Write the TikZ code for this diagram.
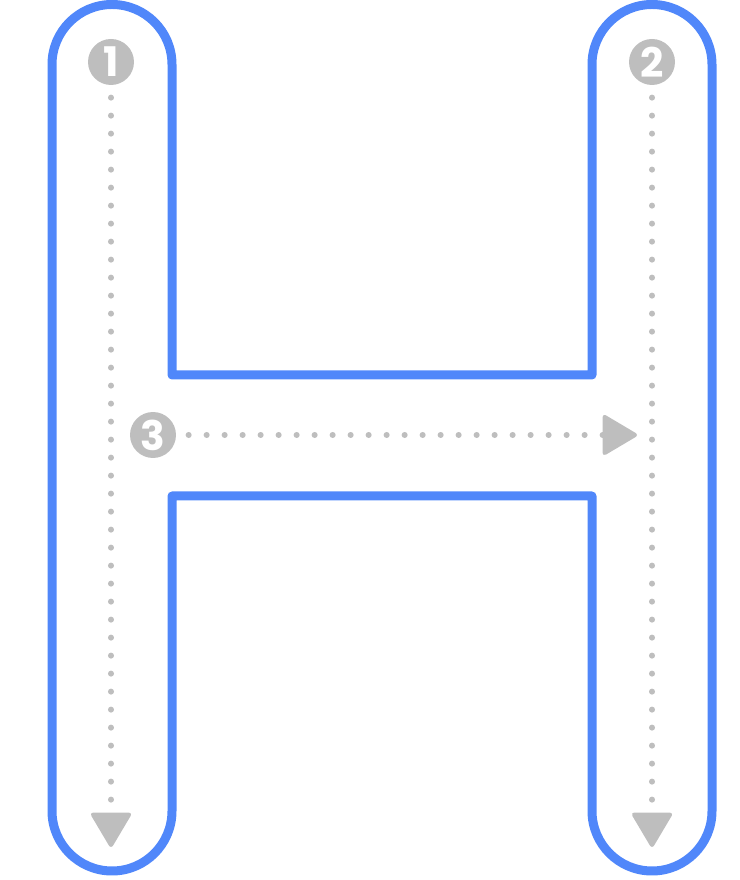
\documentclass[tikz,border=0pt]{standalone}
\usepackage{fontspec}
\newfontfamily\numfont{Poppins}
\usetikzlibrary{arrows.meta}
\definecolor{letterblue}{RGB}{80,135,250}
\definecolor{guidegray}{RGB}{190,190,190}
\tikzstyle{outline} = [draw=letterblue, line width=6.4pt, line join=round]
\tikzstyle{stepnum} = [circle, fill=guidegray, text=white, minimum size=32.7pt, inner sep=0pt, outer sep=9pt, font=\numfont\bfseries\fontsize{29}{29}\selectfont]
\tikzstyle{track} = [draw=guidegray, line width=4.3pt, line cap=round, dash pattern=on 0pt off 12.8pt, -{Triangle[length=26pt,width=30pt,round,line width=3pt]}]

\begin{document}
\begin{tikzpicture}[x=0.025cm, y=0.025cm]
        \useasboundingbox (0,0) rectangle (740,880);
        \draw [outline] (172,505) -- (172,815.5) arc[start angle=0, end angle=180, radius=60]
            -- (52,69) arc[start angle=180, end angle=360, radius=60]
            -- (172,384) -- (592,384)
            -- (592,69) arc[start angle=180, end angle=360, radius=60]
            -- (712,815.5) arc[start angle=0, end angle=180, radius=60]
            -- (592,505) -- cycle;

        \node (one) [stepnum] at (111,818) {1};
        \node (two) [stepnum] at (652,818) {2};
        \node (three) [stepnum] at (153,445) {3};
        \coordinate (oneend) at (111,33);
        \coordinate (twoend) at (652,33);
        \coordinate (threeend) at (637,445);

        \draw [track] (one) -- (oneend);
        \draw [track] (two) -- (twoend);
        \draw [track] (three) -- (threeend);
    \end{tikzpicture}
\end{document}
